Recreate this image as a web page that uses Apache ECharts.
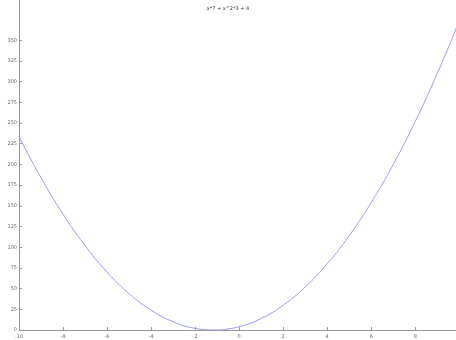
<!DOCTYPE html>
<html>
<head>
<meta charset="utf-8">
<style>html,body{margin:0;padding:0;background:#fff}#c{width:456px;height:340px}</style>
<script src="https://cdn.jsdelivr.net/npm/echarts@6/dist/echarts.min.js"></script>
</head>
<body>
<div id="c"></div>
<script>
const titleText = 'x*7 + x^2*3 + 4';
const xValues = [-10,-9.5,-9,-8.5,-8,-7.5,-7,-6.5,-6,-5.5,-5,-4.5,-4,-3.5,-3,-2.5,-2,-1.5,-1,-0.5,0,0.5,1,1.5,2,2.5,3,3.5,4,4.5,5,5.5,6,6.5,7,7.5,8,8.5,9,9.5,10];
const yValues = [234,208,184,161,140,120,102,85,70,56,44,33,24,16,10,5,2,0.3,0,1.3,4,8,14,21,30,40,52,65,80,96,114,133,154,176,200,225,252,280,310,341,374];
const yTicks = [0,25,50,75,100,125,150,175,200,225,250,275,300,325,350];
const xTicks = [-10,-8,-6,-4,-2,0,2,4,6,8];

const chart = echarts.init(document.getElementById('c'), null, {renderer:'canvas'});
chart.setOption({
  animation:false,
  title:{text:titleText,left:'center',top:1,textStyle:{fontSize:5,fontWeight:'normal',color:'#333',fontFamily:'DejaVu Sans'}},
  grid:{left:19,right:0,top:0,bottom:10,containLabel:false},
  xAxis:{type:'value',min:-10,max:9.85,interval:2,
    axisLine:{onZero:false,lineStyle:{color:'#999',width:1}},
    axisTick:{inside:true,length:3,lineStyle:{color:'#999'},customValues:xTicks},
    axisLabel:{fontSize:5,color:'#666',margin:4,fontFamily:'DejaVu Sans',customValues:xTicks},
    splitLine:{show:false}},
  yAxis:{type:'value',min:0,max:398.6,interval:25,
    axisLine:{show:true,onZero:false,lineStyle:{color:'#999',width:1}},
    axisTick:{show:true,inside:true,length:3,lineStyle:{color:'#999'},customValues:yTicks},
    axisLabel:{fontSize:5,color:'#666',margin:2,fontFamily:'DejaVu Sans',customValues:yTicks},
    splitLine:{show:false}},
  series:[{type:'line',data:xValues.map((x,i)=>[x,yValues[i]]),smooth:true,showSymbol:false,
    lineStyle:{color:'#9999ff',width:1},clip:true}]
});
</script>
</body>
</html>
